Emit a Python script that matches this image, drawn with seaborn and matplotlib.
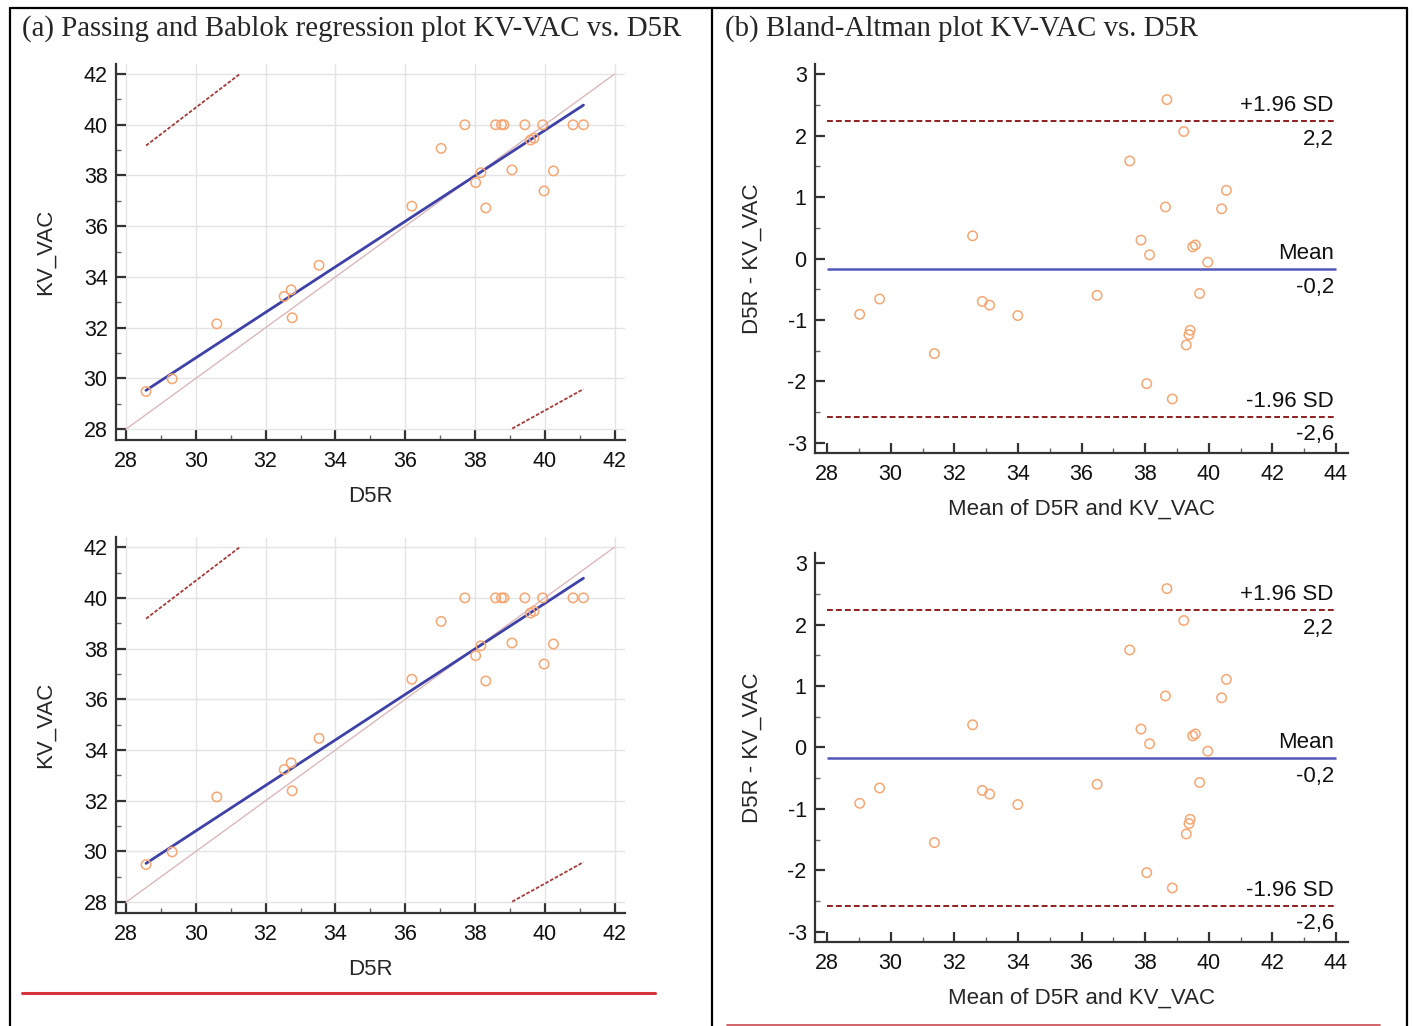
import numpy as np
import pandas as pd
import matplotlib.pyplot as plt
import seaborn as sns
from matplotlib.lines import Line2D
from matplotlib.ticker import MultipleLocator

# values
d5r = [28.57, 29.32, 30.60, 32.53, 32.73, 32.76, 33.53, 36.19, 37.03, 37.71, 38.02, 38.17, 38.31,
       38.59, 38.76, 38.83, 39.06, 39.43, 39.59, 39.69, 39.94, 39.98, 40.25, 40.81, 41.11]
kv_vac = [29.48, 29.98, 32.15, 33.23, 33.49, 32.39, 34.46, 36.79, 39.07, 40.00, 37.72, 38.11, 36.72,
          40.00, 40.00, 40.00, 38.22, 40.00, 39.40, 39.47, 40.00, 37.39, 38.18, 40.00, 40.00]

# Passing-Bablok fit and the two confidence lines (intercept, slope)
pb_fit = (3.90, 0.897)
pb_ci_upper = (9.18, 1.05)
pb_ci_lower = (-1.79, 0.763)

# Bland-Altman bias and limits of agreement
ba_mean = -0.17
ba_upper = 2.24
ba_lower = -2.58

titles = ['(a) Passing and Bablok regression plot KV-VAC vs. D5R',
          '(b) Bland-Altman plot KV-VAC vs. D5R']

df = pd.DataFrame({'D5R': d5r, 'KV_VAC': kv_vac})
df['mean'] = (df['D5R'] + df['KV_VAC']) / 2
df['diff'] = df['D5R'] - df['KV_VAC']

sns.set_theme(style='white')
plt.rcParams['font.family'] = ['Liberation Sans', 'DejaVu Sans']
plt.rcParams['axes.unicode_minus'] = False

fig = plt.figure(figsize=(14.13, 10.26), dpi=100)

pt_color = '#f7a672'
spine_col = '#333333'


def style_axes(ax):
    sns.despine(ax=ax)
    for s in ['left', 'bottom']:
        ax.spines[s].set_linewidth(1.6)
        ax.spines[s].set_color(spine_col)
    ax.tick_params(which='major', direction='in', length=7.5, width=1.6, color=spine_col,
                   labelsize=15.5, left=True, bottom=True, labelcolor='#111111')
    ax.tick_params(axis='x', which='major', pad=8)
    ax.tick_params(axis='y', which='major', pad=6)
    ax.tick_params(which='minor', direction='in', length=3.6, width=1.0, color='#666666',
                   left=True, bottom=True)


def draw_clipped(ax, line, lo, hi, **kw):
    b, m = line
    xs = np.linspace(min(d5r), max(d5r), 400)
    ys = b + m * xs
    keep = (ys >= lo) & (ys <= hi)
    ax.plot(xs[keep], ys[keep], **kw)


def passing_bablok(ax):
    ax.set_xlim(27.71, 42.3)
    ax.set_ylim(27.57, 42.4)
    ax.xaxis.set_major_locator(MultipleLocator(2))
    ax.xaxis.set_minor_locator(MultipleLocator(1))
    ax.yaxis.set_major_locator(MultipleLocator(2))
    ax.yaxis.set_minor_locator(MultipleLocator(1))
    ax.grid(True, which='major', color='#e4e4e4', lw=1)
    ax.set_axisbelow(True)

    ax.plot([28, 42], [28, 42], color='#dcb8b8', lw=1)
    draw_clipped(ax, pb_ci_upper, 28, 42, color='#a83a3a', lw=1.3, ls=(0, (2, 1)))
    draw_clipped(ax, pb_ci_lower, 28, 42, color='#a83a3a', lw=1.3, ls=(0, (2, 1)))

    xs = np.array([min(d5r), max(d5r)])
    sns.lineplot(x=xs, y=pb_fit[0] + pb_fit[1] * xs, ax=ax, color='#3d41a8', lw=2)
    sns.scatterplot(data=df, x='D5R', y='KV_VAC', ax=ax, marker='o', s=46,
                    facecolor='none', edgecolor=pt_color, linewidth=1.1, zorder=3)
    style_axes(ax)
    ax.set_xlabel('D5R', fontsize=16, labelpad=10)
    ax.set_ylabel('KV_VAC', fontsize=16, labelpad=20)


def bland_altman(ax):
    ax.set_xlim(27.62, 44.38)
    ax.set_ylim(-3.17, 3.17)
    ax.xaxis.set_major_locator(MultipleLocator(2))
    ax.xaxis.set_minor_locator(MultipleLocator(1))
    ax.yaxis.set_major_locator(MultipleLocator(1))
    ax.yaxis.set_minor_locator(MultipleLocator(0.5))

    ax.hlines(ba_mean, 28, 44, color='#5356bb', lw=1.8)
    ax.hlines([ba_upper, ba_lower], 28, 44, color='#8e1f1f', lw=1.4, linestyles=(0, (3, 1.6)))
    sns.scatterplot(data=df, x='mean', y='diff', ax=ax, marker='o', s=46,
                    facecolor='none', edgecolor=pt_color, linewidth=1.1, zorder=3)

    for name, val in [('+1.96 SD', ba_upper), ('Mean', ba_mean), ('-1.96 SD', ba_lower)]:
        ax.annotate(name, xy=(44, val), xytext=(-1.5, 3.5), textcoords='offset points',
                    ha='right', va='bottom', fontsize=16, color='#111111')
        ax.annotate(f'{val:.1f}'.replace('.', ','), xy=(44, val), xytext=(-1.5, -5.5),
                    textcoords='offset points', ha='right', va='top', fontsize=16, color='#111111')
    style_axes(ax)
    ax.set_xlabel('Mean of D5R and KV_VAC', fontsize=16, labelpad=10)
    ax.set_ylabel('D5R - KV_VAC', fontsize=16, labelpad=18)


ax1 = fig.add_axes([0.0821, 0.5712, 0.3602, 0.3665])
ax2 = fig.add_axes([0.0821, 0.1101, 0.3602, 0.3665])
ax3 = fig.add_axes([0.5768, 0.5585, 0.3772, 0.3791])
ax4 = fig.add_axes([0.5768, 0.0819, 0.3772, 0.3791])

passing_bablok(ax1)
passing_bablok(ax2)
bland_altman(ax3)
bland_altman(ax4)

fig.text(22 / 1413, 1 - 36 / 1026, titles[0], family=['Liberation Serif'], fontsize=20.8, va='baseline')
fig.text(725 / 1413, 1 - 36 / 1026, titles[1], family=['Liberation Serif'], fontsize=20.8, va='baseline')

# surrounding table frame
top = 1 - 8 / 1026
for x in [10 / 1413, 712 / 1413, 1407 / 1413]:
    fig.add_artist(Line2D([x, x], [0, top], color='black', lw=1.6))
fig.add_artist(Line2D([10 / 1413, 1407 / 1413], [top, top], color='black', lw=1.6))
fig.add_artist(Line2D([22 / 1413, 655 / 1413], [1 - 993 / 1026, 1 - 993 / 1026], color='#d6353d', lw=2.2))
fig.add_artist(Line2D([727 / 1413, 1380 / 1413], [1 - 1024.5 / 1026, 1 - 1024.5 / 1026], color='#c94a50', lw=1.2))

fig.savefig('out.png', dpi=100)
